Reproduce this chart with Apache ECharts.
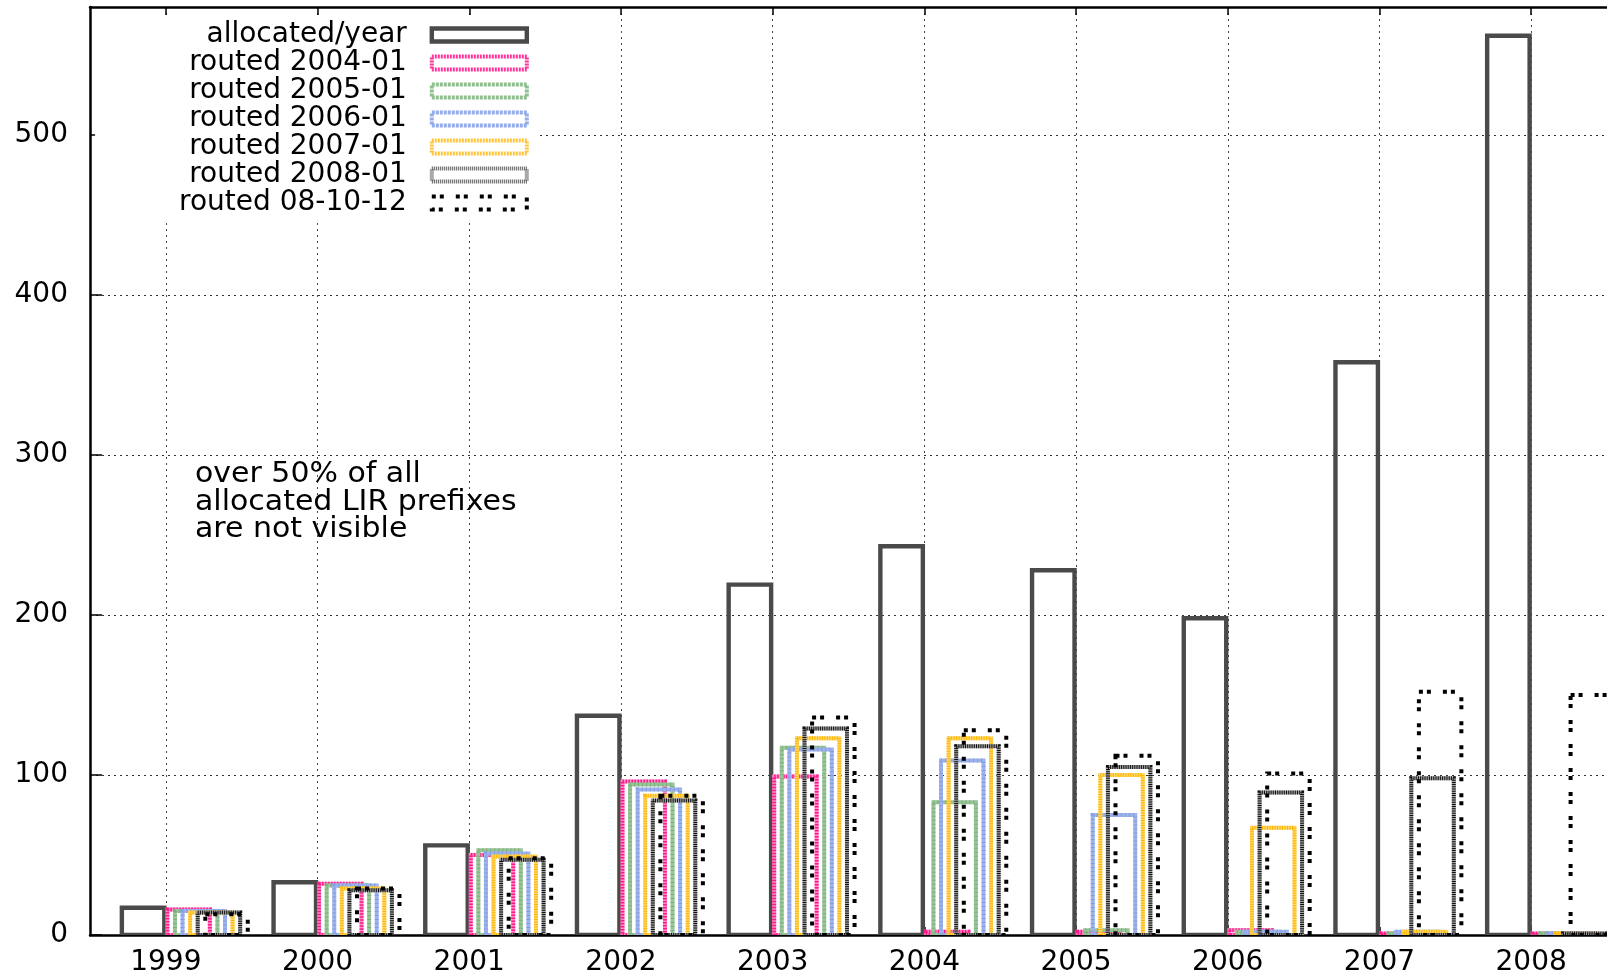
<!DOCTYPE html>
<html><head><meta charset="utf-8">
<script src="https://cdn.jsdelivr.net/npm/echarts@6/dist/echarts.min.js"></script>
<style>html,body{margin:0;padding:0;background:#fff;overflow:hidden}#c{width:1607px;height:980px}</style>
</head><body><div id="c"></div>
<script>
// ---- data ----
const years = [1999, 2000, 2001, 2002, 2003, 2004, 2005, 2006, 2007, 2008];
const allocatedPerYear = [17, 33, 56, 137, 219, 243, 228, 198, 358, 562];
const routed200401 = [16, 32, 50, 96, 99, 2, 2, 3, 1, 1];
const routed200501 = [15, 31, 53, 94, 117, 83, 3, 2, 1, 1];
const routed200601 = [15, 31, 51, 91, 116, 109, 75, 2, 2, 1];
const routed200701 = [14, 29, 49, 87, 123, 123, 100, 67, 2, 1];
const routed200801 = [14, 28, 47, 84, 129, 118, 105, 89, 98, 1];
const routed081012 = [13, 29, 48, 87, 136, 128, 112, 101, 152, 150];
const yTickLabels = [0, 100, 200, 300, 400, 500];
const seriesNames = ['allocated/year', 'routed 2004-01', 'routed 2005-01', 'routed 2006-01', 'routed 2007-01', 'routed 2008-01', 'routed 08-10-12'];
const seriesValues = [allocatedPerYear, routed200401, routed200501, routed200601, routed200701, routed200801, routed081012];
const annotation = ['over 50% of all', 'allocated LIR prefixes', 'are not visible'];

// ---- styles (box offsets within a year slot, stroke layers) ----
const FONT = 'DejaVu Sans';
const boxStyles = [
  { from: -0.29, to: -0.01, layers: [{ stroke: '#4a4a4a', w: 4.4 }],
    legend: { borderColor: '#4a4a4a', borderWidth: 4.4, borderType: 'solid' } },
  { from: 0.01, to: 0.29, layers: [{ stroke: '#ff8cc6', w: 4 }, { stroke: '#ff1a8c', w: 4, dash: [1.5, 1.5] }],
    legend: { borderColor: '#ff3399', borderWidth: 4, borderType: [2, 1] } },
  { from: 0.06, to: 0.34, layers: [{ stroke: '#98c498', w: 4 }, { stroke: '#7bb07b', w: 4, dash: [1, 3] }],
    legend: { borderColor: '#8fbf8f', borderWidth: 4, borderType: [3, 1] } },
  { from: 0.11, to: 0.39, layers: [{ stroke: '#9cb2ec', w: 4 }, { stroke: '#839ee4', w: 4, dash: [1, 3] }],
    legend: { borderColor: '#95acea', borderWidth: 4, borderType: [3, 1] } },
  { from: 0.16, to: 0.44, layers: [{ stroke: '#ffd766', w: 4 }, { stroke: '#ffb400', w: 4, dash: [1, 1.5] }],
    legend: { borderColor: '#ffc43a', borderWidth: 4, borderType: [2, 1] } },
  { from: 0.21, to: 0.49, layers: [{ stroke: '#a0a0a0', w: 4 }, { stroke: '#111', w: 4, dash: [1, 1.2] }],
    legend: { borderColor: '#555', borderWidth: 4, borderType: [1, 1] } },
  { from: 0.26, to: 0.54, layers: [{ stroke: '#000', w: 4, dash: [4, 4, 4, 12] }],
    legend: { borderColor: '#000', borderWidth: 4, borderType: [4, 4, 4, 12] } }
];

function makeRender(st) {
  return function (params, api) {
    const x = api.value(0), v = api.value(1);
    const p0 = api.coord([x + st.from, v]);
    const p1 = api.coord([x + st.to, 0]);
    return {
      type: 'group',
      children: st.layers.map(l => ({
        type: 'rect',
        shape: { x: p0[0], y: p0[1], width: p1[0] - p0[0], height: p1[1] - p0[1] },
        style: { fill: 'none', stroke: l.stroke, lineWidth: l.w, lineDash: l.dash || null, lineCap: 'butt' }
      }))
    };
  };
}

const series = seriesNames.map((name, k) => ({
  name,
  type: 'custom',
  xAxisIndex: 0, yAxisIndex: 0,
  data: years.map((y, i) => [y, seriesValues[k][i]]),
  renderItem: makeRender(boxStyles[k]),
  itemStyle: { color: 'none', borderColor: boxStyles[k].legend.borderColor },
  clip: true,
  z: 2 + k * 0.01
}));

const chart = echarts.init(document.getElementById('c'), null, { renderer: 'canvas' });
chart.setOption({
  animation: false,
  backgroundColor: '#fff',
  textStyle: { fontFamily: FONT },
  grid: { left: 90, right: 0, top: 7, bottom: 45, containLabel: false },
  xAxis: [
    {
      type: 'value', position: 'bottom', min: 1998.5, max: 2008.5,
      axisLine: { show: true, onZero: false, lineStyle: { color: '#000', width: 2.5 } },
      axisTick: { show: true, inside: true, length: 8, customValues: years, lineStyle: { color: '#000', width: 1.5 } },
      axisLabel: { show: true, customValues: years, formatter: v => String(v), color: '#000', fontSize: 28, fontFamily: FONT, margin: 14 },
      splitLine: { show: true, lineStyle: { color: '#444', width: 1, type: [2, 4] } }
    },
    {
      type: 'value', position: 'top', min: 1998.5, max: 2008.5,
      axisLine: { show: true, onZero: false, lineStyle: { color: '#000', width: 2.5 } },
      axisTick: { show: true, inside: true, length: 8, customValues: years, lineStyle: { color: '#000', width: 1.5 } },
      axisLabel: { show: false },
      splitLine: { show: false }
    }
  ],
  yAxis: {
    type: 'value', min: 0, max: 580, interval: 100,
    axisLine: { show: true, onZero: false, lineStyle: { color: '#000', width: 2.5 } },
    axisTick: { show: true, inside: true, length: 12, customValues: yTickLabels, lineStyle: { color: '#000', width: 1.5 } },
    axisLabel: { customValues: yTickLabels, color: '#000', fontSize: 28, fontFamily: FONT, margin: 22 },
    splitLine: { show: true, lineStyle: { color: '#333', width: 1, type: [2, 4] } }
  },
  legend: {
    orient: 'vertical', align: 'right', right: 1070, top: 15,
    backgroundColor: '#fff', padding: [6, 8, 3, 84],
    itemWidth: 95, itemHeight: 13, itemGap: 0, icon: 'rect',
    selectedMode: false,
    textStyle: { fontFamily: FONT, fontSize: 28, lineHeight: 28, color: '#000', padding: [0, 20, 0, 0] },
    data: seriesNames.map((n, k) => ({ name: n, icon: 'rect', itemStyle: Object.assign({ color: 'rgba(0,0,0,0)' }, boxStyles[k].legend) }))
  },
  graphic: [{
    type: 'text', left: 195, top: 461, z: 10, scaleX: 1.07,
    style: { text: annotation.join('\n'), font: '28px "DejaVu Sans"', fill: '#000', lineHeight: 27.5 }
  }],
  series
});
</script></body></html>
